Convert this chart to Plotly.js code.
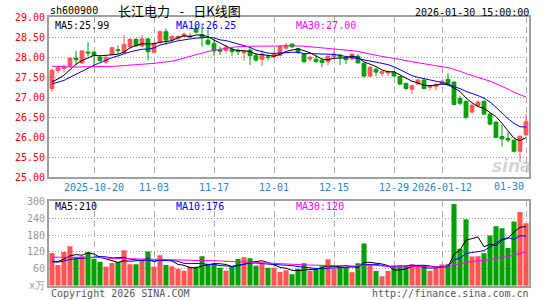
<!DOCTYPE html>
<html><head><meta charset="utf-8">
<script src="https://cdn.plot.ly/plotly-3.0.1.min.js"></script>
<style>html,body{margin:0;padding:0;background:#fff;}#chart{width:545px;height:300px;}</style>
</head><body><div id="chart"></div>
<script>
// ---- data ----
const dates = [
 '2025-10-09','2025-10-10','2025-10-13','2025-10-14','2025-10-15','2025-10-16','2025-10-17','2025-10-20','2025-10-21','2025-10-22',
 '2025-10-23','2025-10-24','2025-10-27','2025-10-28','2025-10-29','2025-10-30','2025-10-31','2025-11-03','2025-11-04','2025-11-05',
 '2025-11-06','2025-11-07','2025-11-10','2025-11-11','2025-11-12','2025-11-13','2025-11-14','2025-11-17','2025-11-18','2025-11-19',
 '2025-11-20','2025-11-21','2025-11-24','2025-11-25','2025-11-26','2025-11-27','2025-11-28','2025-12-01','2025-12-02','2025-12-03',
 '2025-12-04','2025-12-05','2025-12-08','2025-12-09','2025-12-10','2025-12-11','2025-12-12','2025-12-15','2025-12-16','2025-12-17',
 '2025-12-18','2025-12-19','2025-12-22','2025-12-23','2025-12-24','2025-12-25','2025-12-26','2025-12-29','2025-12-30','2025-12-31',
 '2026-01-05','2026-01-06','2026-01-07','2026-01-08','2026-01-09','2026-01-12','2026-01-13','2026-01-14','2026-01-15','2026-01-16',
 '2026-01-19','2026-01-20','2026-01-21','2026-01-22','2026-01-23','2026-01-26','2026-01-27','2026-01-28','2026-01-29','2026-01-30'];

const open = [
 27.22,27.67,27.72,27.78,27.98,27.86,28.13,28.13,28.00,27.88,
 28.07,28.19,28.12,28.27,28.45,28.28,28.46,28.12,28.38,28.64,
 28.44,28.46,28.53,28.50,28.72,28.57,28.43,28.34,28.19,28.17,
 28.20,28.18,28.11,28.18,28.04,27.95,28.01,28.01,28.05,28.23,
 28.33,28.22,28.08,27.96,27.95,27.93,27.89,28.02,28.06,27.98,
 27.96,28.03,27.85,27.53,27.70,27.60,27.61,27.63,27.52,27.35,
 27.20,27.33,27.43,27.25,27.27,27.34,27.45,27.38,26.97,26.90,
 26.63,26.79,26.90,26.58,26.38,26.02,25.97,25.93,25.65,26.06];
const high = [
 27.70,27.78,27.80,27.99,28.16,28.18,28.38,28.15,28.07,28.03,
 28.26,28.30,28.56,28.48,28.47,28.56,28.48,28.37,28.67,28.72,
 28.56,28.55,28.62,28.62,28.80,28.84,28.69,28.43,28.27,28.31,
 28.25,28.22,28.16,28.27,28.10,28.18,28.06,28.15,28.31,28.36,
 28.34,28.24,28.10,28.03,28.05,27.93,28.03,28.17,28.08,28.00,
 28.08,28.08,27.87,27.78,27.75,27.66,27.65,27.65,27.52,27.35,
 27.29,27.47,27.45,27.30,27.36,27.43,27.60,27.40,27.03,26.92,
 26.85,26.93,26.92,26.60,26.40,26.30,26.13,25.93,26.03,26.58];
const low = [
 27.14,27.60,27.62,27.74,27.80,27.83,28.02,27.78,27.89,27.83,
 28.05,28.08,28.10,28.20,28.25,28.25,27.92,28.10,28.33,28.31,
 28.40,28.44,28.50,28.48,28.60,28.27,28.30,28.03,28.06,28.10,
 28.03,28.06,27.92,27.81,27.89,27.78,27.92,27.96,28.03,28.18,
 28.24,28.08,27.85,27.89,27.85,27.75,27.80,27.97,27.81,27.83,
 27.93,27.84,27.50,27.50,27.53,27.52,27.53,27.52,27.31,27.17,
 27.08,27.31,27.20,27.17,27.17,27.31,27.27,26.80,26.80,26.45,
 26.60,26.75,26.55,26.30,25.98,25.77,25.88,25.62,25.38,26.02];
const close = [
 27.68,27.74,27.78,27.98,27.94,28.16,28.11,28.05,27.92,28.00,
 28.24,28.17,28.32,28.45,28.29,28.46,28.14,28.35,28.64,28.43,
 28.52,28.52,28.58,28.54,28.63,28.50,28.33,28.16,28.15,28.25,
 28.14,28.14,28.15,28.04,27.93,28.08,28.00,28.08,28.27,28.30,
 28.26,28.12,27.89,28.00,27.90,27.87,28.03,28.08,28.02,27.94,
 28.08,27.86,27.53,27.75,27.63,27.64,27.64,27.53,27.33,27.22,
 27.29,27.43,27.22,27.29,27.31,27.40,27.35,26.82,26.85,26.50,
 26.80,26.88,26.58,26.33,26.00,25.96,25.93,25.65,26.03,26.39];
const volume = [
 116,74,120,140,102,105,119,96,85,67,
 81,84,126,76,76,89,122,67,108,74,
 69,60,53,67,67,105,78,76,64,53,
 67,95,101,98,71,78,64,64,49,55,
 41,59,80,53,59,69,94,60,69,67,
 48,80,150,70,52,34,52,70,72,72,
 76,72,70,53,64,75,76,290,131,236,
 104,105,115,178,211,204,134,228,262,222];

// closes / volumes of the 29 sessions before the first visible one (for moving averages)
const prevClose = [
 28.05,27.95,28.10,28.00,27.90,28.05,28.00,27.95,28.10,28.00,
 27.90,28.05,28.00,28.10,27.95,28.00,27.90,28.05,28.00,27.95,
 27.35,27.30,27.20,27.25,27.30,27.40,27.30,27.25,27.32];
const prevVolume = [
 130,95,120,105,140,100,90,115,125,100,
 95,110,120,105,100,130,95,110,115,100,
 90,75,85,80,85,80,75,85,79];

// date ticks (the last label is placed inside the frame, as in the original)
const tickDates = ['2025-10-20','2025-11-03','2025-11-17','2025-12-01','2025-12-15','2025-12-29','2026-01-12','2026-01-30'];
const tickText  = ['2025-10-20','11-03','11-17','12-01','12-15','12-29','2026-01-12',''];
const lastTickText = '01-30';
const priceTicks = [25,25.5,26,26.5,27,27.5,28,28.5,29];
const volTicks = [0,60,120,180,240,300];
const volTickText = ['x万','60','120','180','240','300'];
const priceMaText = ['MA5:25.99','MA10:26.25','MA30:27.00'];
const volMaText = ['MA5:210','MA10:176','MA30:120'];
const headerCode = 'sh600900';
const headerTitle = '长江电力\u2002\u00a0-\u2002\u00a0日K线图';
const headerTime = '2026-01-30 15:00:00';

// ---- helpers ----
function sma(prev, arr, n){
  const all = prev.concat(arr);
  return arr.map((_, i) => {
    const end = prev.length + i + 1;
    let s = 0;
    for (let k = end - n; k < end; k++) s += all[k];
    return s / n;
  });
}
const RED = '#ff5555', GREEN = '#00a000';
const MONO = 'DejaVu Sans Mono';
const W = 545, H = 300;
const px = v => v / W, py = v => 1 - v / H;

const maColors = ['#000000', '#0000ff', '#ff00ff'];
const maN = [5, 10, 30];

const traces = [];
traces.push({
  type: 'candlestick', x: dates, open: open, high: high, low: low, close: close,
  xaxis: 'x', yaxis: 'y', whiskerwidth: 0,
  increasing: {line: {color: RED, width: 1}, fillcolor: RED},
  decreasing: {line: {color: GREEN, width: 1}, fillcolor: GREEN},
  hoverinfo: 'skip'
});
maN.forEach((n, k) => traces.push({
  type: 'scatter', mode: 'lines', x: dates, y: sma(prevClose, close, n),
  xaxis: 'x', yaxis: 'y', line: {color: maColors[k], width: 1}, hoverinfo: 'skip'
}));
traces.push({
  type: 'bar', x: dates, y: volume, xaxis: 'x2', yaxis: 'y2',
  marker: {color: close.map((c, i) => c >= open[i] ? RED : GREEN), line: {width: 0}},
  hoverinfo: 'skip'
});
maN.forEach((n, k) => traces.push({
  type: 'scatter', mode: 'lines', x: dates, y: sma(prevVolume, volume, n),
  xaxis: 'x2', yaxis: 'y2', line: {color: maColors[k], width: 1}, hoverinfo: 'skip'
}));

const frame = {showline: true, mirror: true, linecolor: '#a0a0a0', linewidth: 2, zeroline: false, fixedrange: true};
const xcommon = Object.assign({}, frame, {
  type: 'category', domain: [px(49), px(529)], range: [-0.5, dates.length - 0.5],
  tickmode: 'array', tickvals: tickDates, ticktext: tickText, ticks: '',
  showgrid: true, gridcolor: '#aaaaaa', gridwidth: 1, griddash: '6px,4px',
  rangeslider: {visible: false}
});

const ann = (text, x, y, xanchor, color, size, family, extra) => Object.assign({
  text: text, x: px(x), y: py(y), xref: 'paper', yref: 'paper', xanchor: xanchor, yanchor: 'middle',
  showarrow: false, font: {family: family || MONO, size: size || 10, color: color}
}, extra || {});

const annotations = [
  ann(headerCode, 48, 11, 'left', '#000'),
  ann(headerTitle, 179, 11, 'center', '#000', 13, 'Noto Sans CJK SC'),
  ann(headerTime, 531, 12, 'right', '#000'),
  ann(priceMaText[0], 53, 25, 'left', maColors[0]),
  ann(priceMaText[1], 174, 25, 'left', maColors[1]),
  ann(priceMaText[2], 294, 25, 'left', maColors[2]),
  ann(volMaText[0], 53, 207, 'left', maColors[0]),
  ann(volMaText[1], 174, 207, 'left', maColors[1]),
  ann(volMaText[2], 294, 207, 'left', maColors[2]),
  ann(lastTickText, 509, 186.5, 'center', '#1a88d4'),
  ann('Copyright 2026 SINA.COM', 49, 293, 'left', '#555'),
  ann('http://finance.sina.com.cn', 531, 293, 'right', '#555'),
  ann('<b><i>sina</i></b>', 512, 166, 'center', 'rgba(160,160,160,0.45)', 17, 'DejaVu Sans')
];

const layout = {
  width: W, height: H, margin: {l: 0, r: 0, t: 0, b: 0},
  paper_bgcolor: '#fff', plot_bgcolor: '#fff', showlegend: false, hovermode: false,
  boxgap: 0.1, bargap: 0.15,
  xaxis: Object.assign({}, xcommon, {anchor: 'y', tickfont: {family: MONO, size: 10, color: '#1a88d4'}}),
  yaxis: Object.assign({}, frame, {
    domain: [py(177.3), py(17.3)], range: [25, 29], anchor: 'x',
    tickmode: 'array', tickvals: priceTicks, ticktext: priceTicks.map(v => v.toFixed(2)), ticks: '',
    showgrid: true, gridcolor: '#999999', gridwidth: 1, griddash: '1px,2px',
    tickfont: {family: MONO, size: 10, color: '#ff0000'}
  }),
  xaxis2: Object.assign({}, xcommon, {anchor: 'y2', showticklabels: false}),
  yaxis2: Object.assign({}, frame, {
    domain: [py(285.7), py(201.3)], range: [0, 300], anchor: 'x2',
    tickmode: 'array', tickvals: volTicks, ticktext: volTickText, ticks: '',
    showgrid: true, gridcolor: '#999999', gridwidth: 1, griddash: '1px,2px',
    tickfont: {family: MONO, size: 10, color: '#999'}
  }),
  annotations: annotations
};

Plotly.newPlot('chart', traces, layout, {staticPlot: true, displayModeBar: false});
</script>
</body></html>
